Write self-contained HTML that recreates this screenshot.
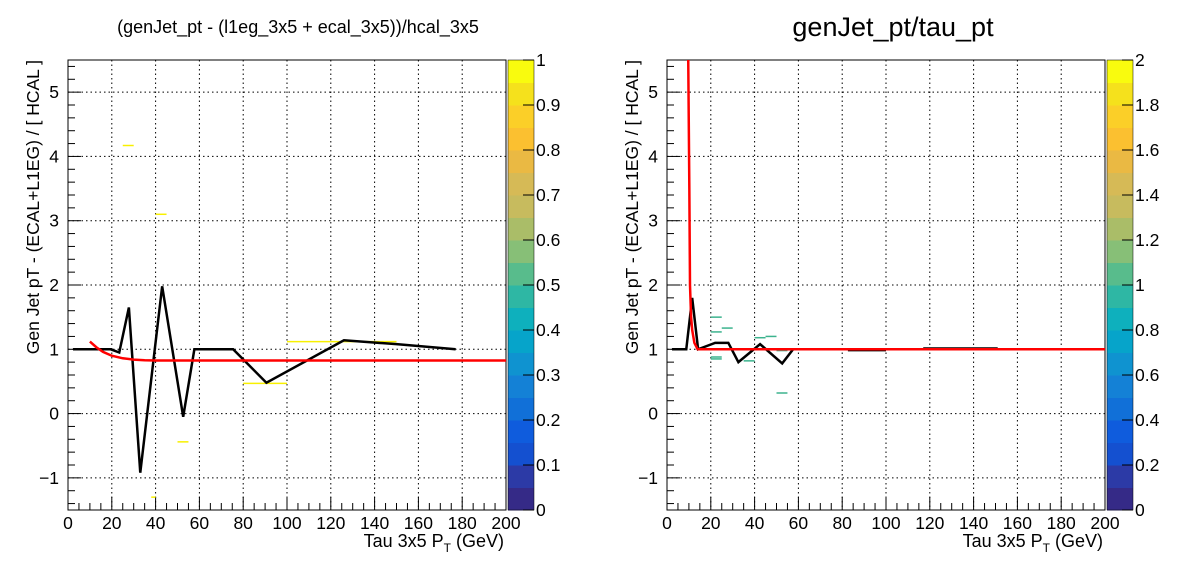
<!DOCTYPE html>
<html><head><meta charset="utf-8"><style>
body{margin:0;background:#fff;}
svg{display:block;font-family:"Liberation Sans",Arial,sans-serif;}
</style></head><body>
<svg id="c" width="1196" height="572" xmlns="http://www.w3.org/2000/svg"></svg>
<script>
const xTicks=[0,20,40,60,80,100,120,140,160,180,200];
const yTicks=[-1,0,1,2,3,4,5];
const leftBlackX=[2.3,19.5,23.4,27.8,33,43,52.6,57.7,75.4,90.6,126,150,177];
const leftBlackY=[1,1,0.95,1.65,-0.92,1.98,-0.05,1,1,0.48,1.14,1.08,1];
const leftRedX=[10,13,16,20,25,30,35,40,200];
const leftRedY=[1.12,1.03,0.96,0.9,0.86,0.84,0.83,0.825,0.825];
const leftYelX0=[25,40,50,80,100,120,38];
const leftYelX1=[30,45,55,100,120,150,40];
const leftYelY=[4.17,3.1,-0.44,0.47,1.12,1.12,-1.3];
const rightBlackX=[2.3,8.8,11.5,14.2,22,28,32.6,42.5,52.6,57.6];
const rightBlackY=[1,1,1.8,1,1.1,1.1,0.8,1.08,0.78,1];
const rightFlatX0=[82.6,117];
const rightFlatX1=[100,151];
const rightFlatY=[0.98,1.02];
const rightRedX=[9.7,10.0,10.2,10.5,11.0,11.5,12.5,14,200];
const rightRedY=[5.5,4.3,3.5,2.0,1.5,1.3,1.1,1.0,1.0];
const rightTealX0=[20,20,20,20,25,35,40,50,50,45];
const rightTealX1=[25,25,25,25,30,40,45,55,55,50];
const rightTealY=[1.5,1.27,0.88,0.85,1.33,0.82,1.18,0.32,0.98,1.2];
const palLeft=["0","0.1","0.2","0.3","0.4","0.5","0.6","0.7","0.8","0.9","1"];
const palRight=["0","0.2","0.4","0.6","0.8","1","1.2","1.4","1.6","1.8","2"];
const NS="http://www.w3.org/2000/svg";
const svg=document.getElementById('c');
function mk(t,a,p){const e=document.createElementNS(NS,t);for(const k in a)e.setAttribute(k,a[k]);(p||svg).appendChild(e);return e;}
const colors=["#352a87","#2c3aa6","#1450d0","#0f5cdd","#1170d8","#1481d6","#0f93d0","#06a4ca","#0eb0bd","#2eb7a4","#58bc8c","#87bf77","#aabd68","#c7bb5e","#d6ba56","#eab943","#fbc030","#fbcf28","#f5e11c","#f9fb0e"];
function drawPanel(px,name,title,tsize,palLabels){
  const L=px,R=px+438,T=60,B=510;
  const X=v=>L+v*(R-L)/200, Y=v=>B-(v+1.5)*(B-T)/7;
  const g=mk('g',{});
  
  
  xTicks.forEach(v=>{if(v>0&&v<200){const e=mk('line',{x1:X(v),x2:X(v),y1:T,y2:B,stroke:'#000','stroke-dasharray':'1.5,3','stroke-width':1},g);}});
  yTicks.forEach(v=>{const e=mk('line',{x1:L,x2:R,y1:Y(v),y2:Y(v),stroke:'#000','stroke-dasharray':'1.5,3','stroke-width':1},g);});
  for(let v=0;v<=200;v+=5){const big=v%20==0;mk('line',{x1:X(v),x2:X(v),y1:B,y2:B-(big?13:7),stroke:'#000'},g);}
  for(let v=-1.4;v<=5.5;v+=0.2){const r=Math.round(v*10)/10;const big=Math.abs(r-Math.round(r))<0.01;mk('line',{x1:L,x2:L+(big?13:7),y1:Y(r),y2:Y(r),stroke:'#000'},g);}
  xTicks.forEach(v=>{const t=mk('text',{x:X(v),y:B+19,'font-size':17.5,'text-anchor':'middle'},g);t.textContent=v;});
  yTicks.forEach(v=>{const t=mk('text',{x:L-9,y:Y(v)+6,'font-size':17.5,'text-anchor':'end'},g);t.textContent=v<0?'\u2212'+(-v):v;});
  const fr=mk('rect',{x:L,y:T,width:R-L,height:B-T,fill:'none',stroke:'#000'},g);
  
  const pl=R+2,pr=R+28,bh=(B-T)/20;
  colors.forEach((c,i)=>{const r=mk('rect',{x:pl,y:B-(i+1)*bh,width:pr-pl,height:bh+0.5,fill:c},g);});
  palLabels.forEach((s,i)=>{const yy=B-i*(B-T)/10;mk('line',{x1:pr-11,x2:pr,y1:yy,y2:yy,stroke:'#000'},g);const t=mk('text',{x:pr+2,y:yy+6,'font-size':17.5},g);t.textContent=s;});
  mk('rect',{x:pl,y:T,width:pr-pl,height:B-T,fill:'none',stroke:'#000','stroke-width':0.5},g);
  const xt=mk('text',{x:R-2,y:B+37,'font-size':18,'text-anchor':'end'},g);
  xt.innerHTML='Tau 3x5 P<tspan font-size="12" dy="5">T</tspan><tspan dy="-5"> (GeV)</tspan>';
  
  const yt=mk('text',{x:0,y:0,'font-size':17.5,'text-anchor':'end',transform:`translate(${L-29},${T}) rotate(-90)`},g);
  yt.textContent='Gen Jet pT - (ECAL+L1EG) / [ HCAL ]';
  
  const tt=mk('text',{x:title[1],y:title[2],'font-size':tsize,'text-anchor':'middle'},g);
  tt.textContent=title[0];
  return {L,R,T,B,X,Y,g};
}
function poly(p,xs,ys,col,w,name){const pts=xs.map((x,i)=>p.X(x)+','+p.Y(ys[i])).join(' ');const e=mk('polyline',{points:pts,fill:'none',stroke:col,'stroke-width':w},p.g);}
function segs(p,x0,x1,ys,col,name){ys.forEach((y,i)=>{const e=mk('line',{x1:p.X(x0[i]),x2:p.X(x1[i]),y1:p.Y(y),y2:p.Y(y),stroke:col,'stroke-width':1.5},p.g);});}
const pL=drawPanel(68,'left-panel',['(genJet_pt - (l1eg_3x5 + ecal_3x5))/hcal_3x5',298,33],18,palLeft);
segs(pL,leftYelX0,leftYelX1,leftYelY,'#f8f000','heatmap-cell');
poly(pL,leftBlackX,leftBlackY,'#000',2.5,'profile-line');
poly(pL,leftRedX,leftRedY,'#f00',2.5,'fit-curve');
const pR=drawPanel(667,'right-panel',['genJet_pt/tau_pt',893,36],27,palRight);
segs(pR,rightTealX0,rightTealX1,rightTealY,'#3cb38e','heatmap-cell');
poly(pR,rightBlackX,rightBlackY,'#000',2.5,'profile-line');
segs(pR,rightFlatX0,rightFlatX1,rightFlatY,'#000','profile-segment');
poly(pR,rightRedX,rightRedY,'#f00',2.5,'fit-curve');
</script>
</body></html>
